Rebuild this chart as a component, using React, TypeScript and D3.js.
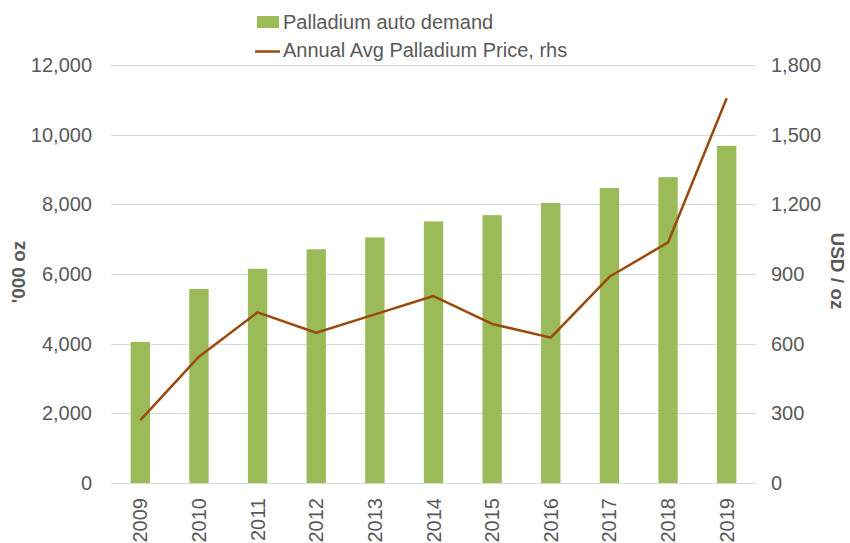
import React from 'react'
import * as d3 from 'd3'

const years = ['2009', '2010', '2011', '2012', '2013', '2014', '2015', '2016', '2017', '2018', '2019']
const autoDemand = [4050, 5570, 6150, 6710, 7050, 7510, 7690, 8040, 8470, 8780, 9680]
const avgPrice = [271, 544, 735, 647, 726, 805, 685, 626, 888, 1036, 1657]
const leftTicks = [0, 2000, 4000, 6000, 8000, 10000, 12000]
const rightTicks = [0, 300, 600, 900, 1200, 1500, 1800]

const width = 850
const height = 543
const margin = {top: 65, right: 94, bottom: 60, left: 111}

const font = '"Liberation Sans", Arial, sans-serif'
const textColor = '#595959'
const barColor = '#9bbb59'
const lineColor = '#9a4a0c'

export default function App() {
    const x = d3.scaleBand()
        .domain(years)
        .range([margin.left, width - margin.right])
        .paddingInner(0.67)
        .paddingOuter(0.335)

    const yLeft = d3.scaleLinear()
        .domain([0, 12000])
        .range([height - margin.bottom, margin.top])

    const yRight = d3.scaleLinear()
        .domain([0, 1800])
        .range([height - margin.bottom, margin.top])

    const fmt = d3.format(',')

    const line = d3.line<number>()
        .x((d, i) => x(years[i])! + x.bandwidth() / 2)
        .y(d => yRight(d))

    const xMin = margin.left
    const xMax = width - margin.right

    return (
        <svg width={width} height={height} style={{position: 'absolute', left: 0, top: 0}} fontFamily={font}>
            <rect width={width} height={height} fill="#fff"/>

            {/* gridlines */}
            <g stroke="#d9d9d9" strokeWidth={1}>
                {leftTicks.map(t => (
                    <line key={t} x1={xMin} x2={xMax} y1={Math.round(yLeft(t)) + 0.5} y2={Math.round(yLeft(t)) + 0.5}/>
                ))}
            </g>

            {/* bars */}
            <g fill={barColor}>
                {autoDemand.map((v, i) => (
                    <rect key={years[i]} x={x(years[i])} width={x.bandwidth()}
                          y={yLeft(v)} height={yLeft(0) - yLeft(v)}/>
                ))}
            </g>

            {/* price line */}
            <path d={line(avgPrice) ?? ''} fill="none" stroke={lineColor} strokeWidth={2.5}
                  strokeLinejoin="round"/>

            {/* left axis */}
            <g fontSize={20} fill={textColor} textAnchor="end">
                {leftTicks.map(t => (
                    <text key={t} x={92} y={yLeft(t)} dy="0.35em">{fmt(t)}</text>
                ))}
            </g>
            <text transform={`translate(18,272) rotate(-90)`} textAnchor="middle" dy="0.35em"
                  fontSize={19} fontWeight="bold" fill={textColor}>'000 oz</text>

            {/* right axis */}
            <g fontSize={20} fill={textColor} textAnchor="start">
                {rightTicks.map(t => (
                    <text key={t} x={771} y={yRight(t)} dy="0.35em">{fmt(t)}</text>
                ))}
            </g>
            <text transform={`translate(838,271) rotate(90)`} textAnchor="middle" dy="0.35em"
                  fontSize={19} fontWeight="bold" fill={textColor}>USD / oz</text>

            {/* x axis labels */}
            <g fontSize={20} fill={textColor} textAnchor="end">
                {years.map(yr => (
                    <text key={yr}
                          transform={`translate(${x(yr)! + x.bandwidth() / 2},${height - margin.bottom + 15}) rotate(-90)`}
                          dy="0.35em">{yr}</text>
                ))}
            </g>

            {/* legend */}
            <g fontSize={20} fill={textColor}>
                <rect x={257} y={16} width={22} height={12} fill={barColor}/>
                <text x={283} y={29}>Palladium auto demand</text>
                <line x1={255} x2={280} y1={51.5} y2={51.5} stroke={lineColor} strokeWidth={2.5}/>
                <text x={283} y={57}>Annual Avg Palladium Price, rhs</text>
            </g>
        </svg>
    )
}
